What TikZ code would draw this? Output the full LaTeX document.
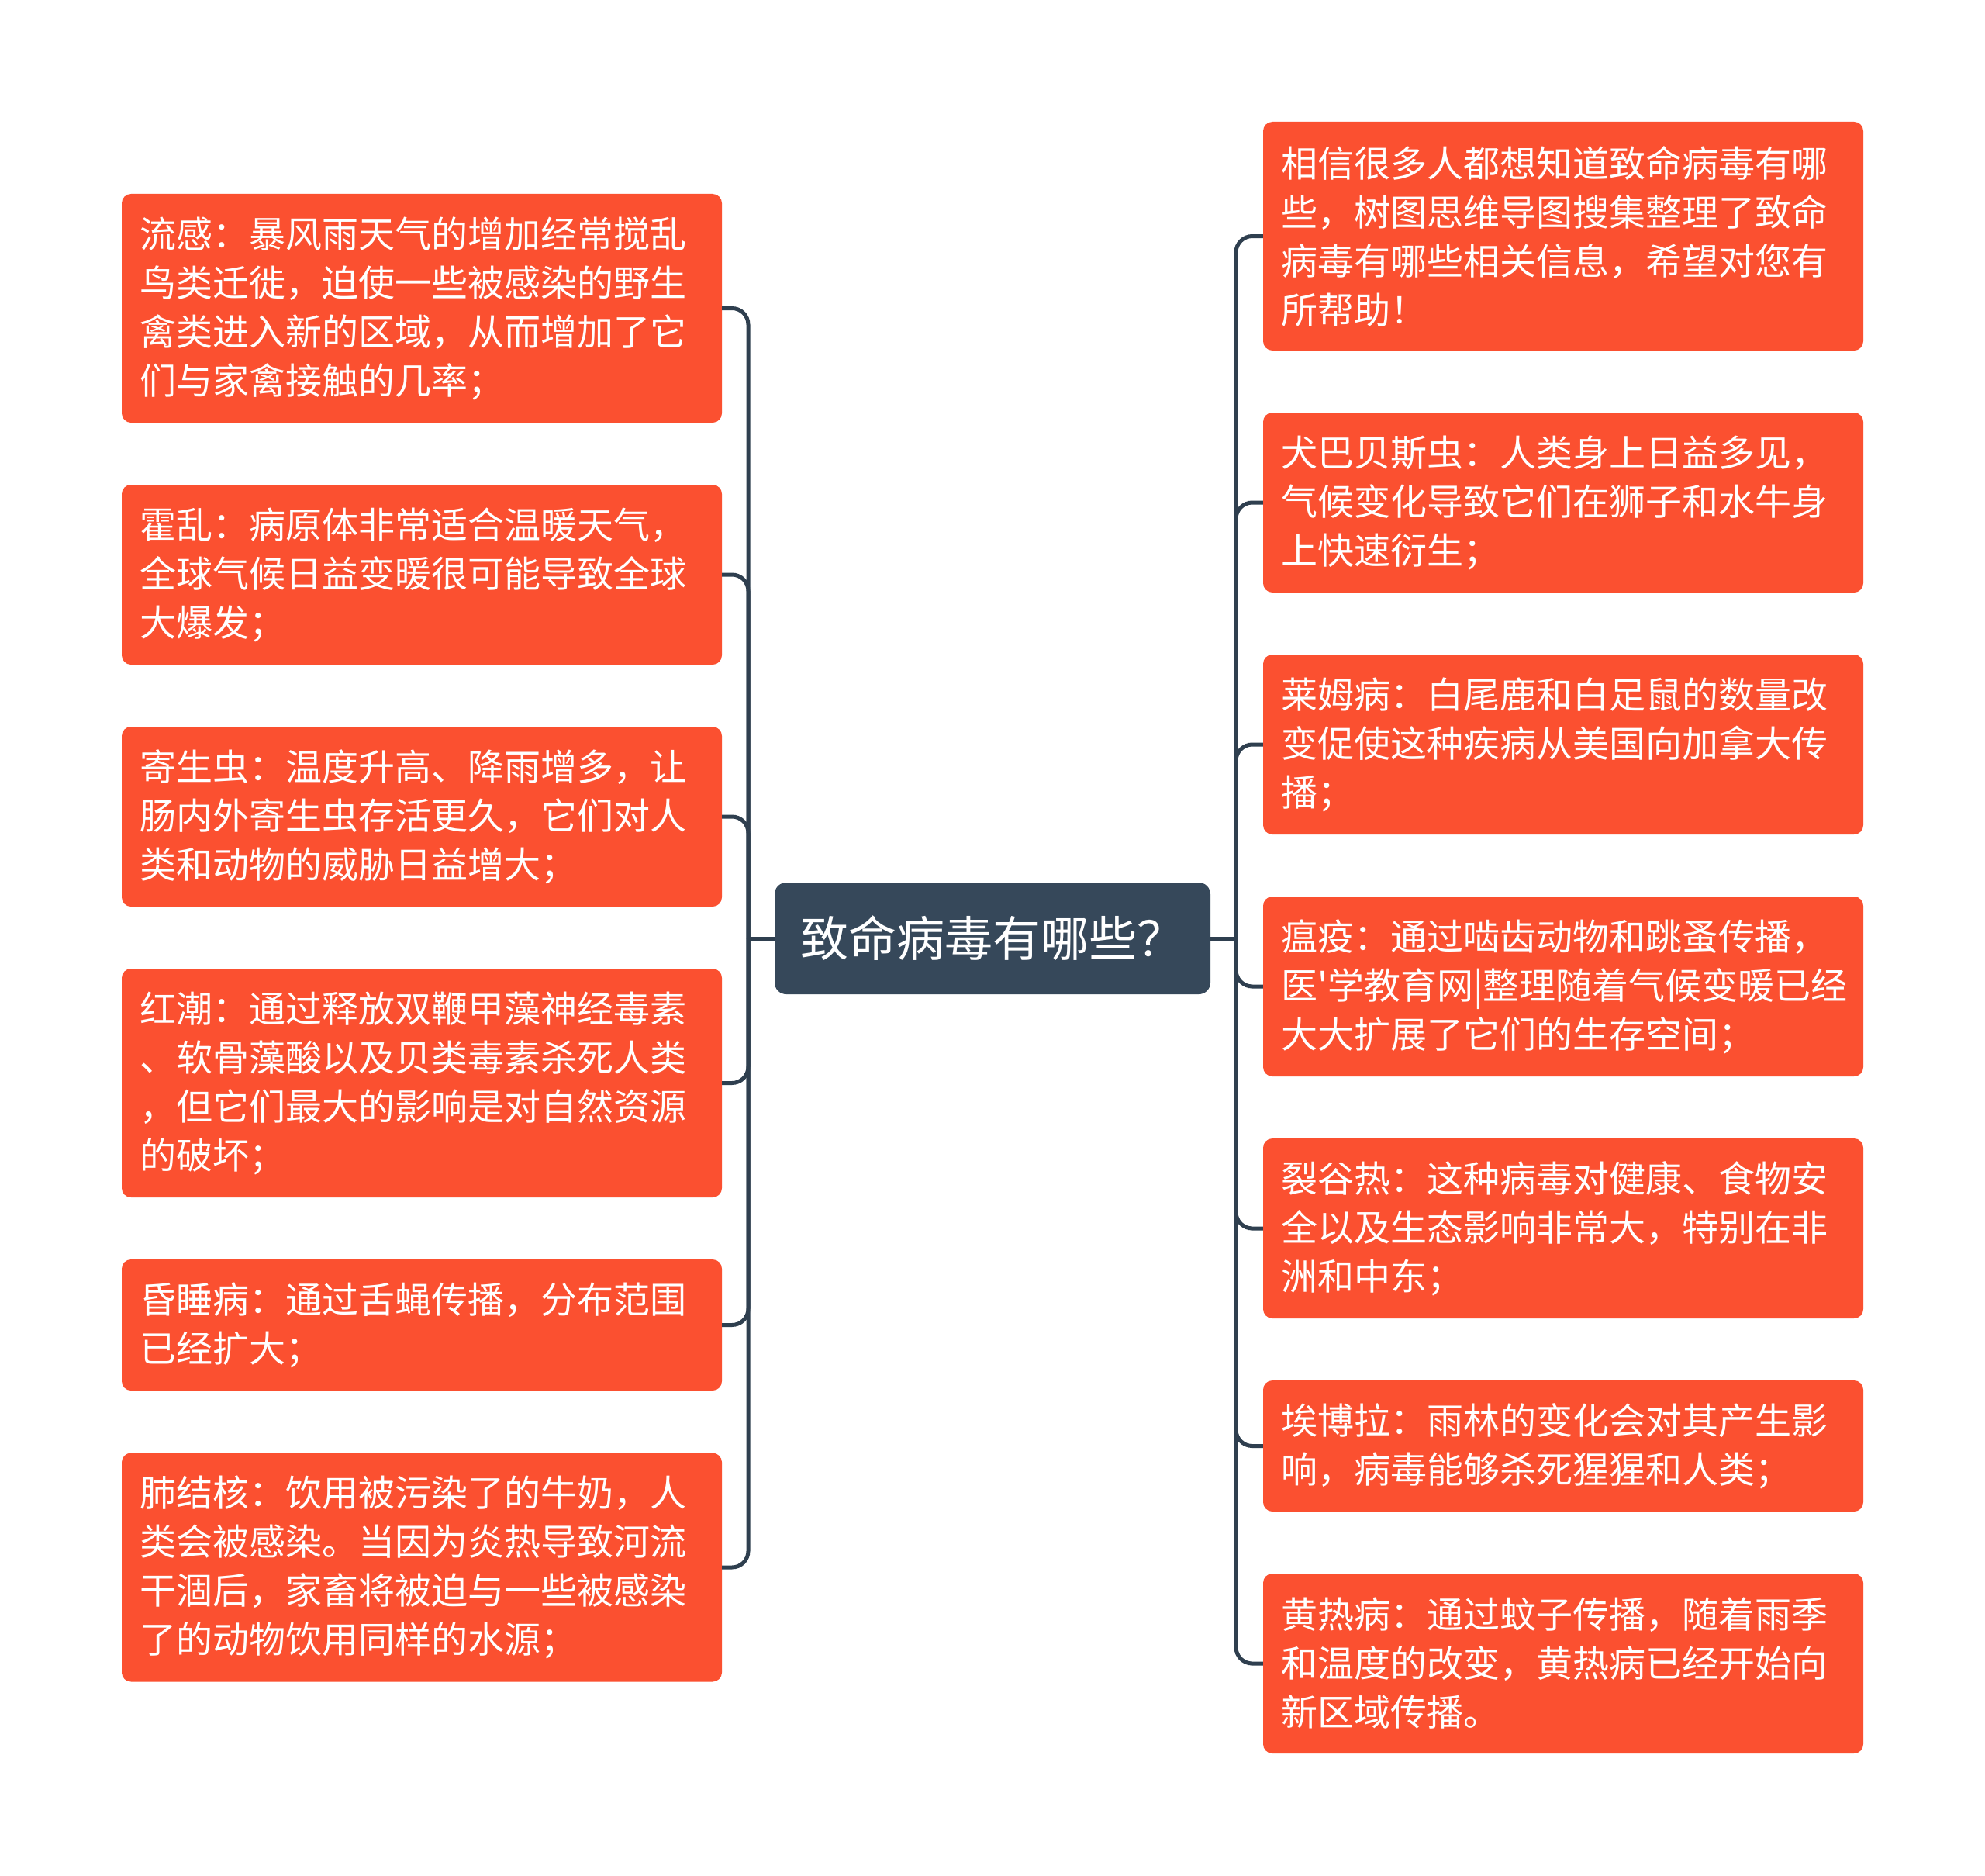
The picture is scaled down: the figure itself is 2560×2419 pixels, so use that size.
\documentclass[tikz,border=0pt]{standalone}
\usepackage{fontspec}
\setmainfont{Noto Sans CJK SC}[Ligatures=TeXOff]
\definecolor{leafc}{HTML}{FB5030}
\definecolor{rootc}{HTML}{36485A}
\definecolor{linec}{HTML}{2F3F4F}
\newcommand{\leaffont}{\fontsize{47pt}{63pt}\selectfont}
\newcommand{\rootfont}{\fontsize{62pt}{70pt}\selectfont}
\begin{document}
\begin{tikzpicture}[x=1pt,y=-1pt,
  leaf/.style={rectangle, rounded corners=12pt, fill=leafc, text=white,
    minimum width=774pt, text width=728pt, inner xsep=23pt, inner ysep=0pt,
    align=left, font=\leaffont},
  h4/.style={minimum height=295pt},
  h3/.style={minimum height=232pt},
  h2/.style={minimum height=169pt},
  rootbox/.style={rectangle, rounded corners=15pt, fill=rootc, text=white,
    minimum width=562pt, minimum height=144pt, inner sep=0pt, font=\rootfont},
  conn/.style={draw=linec, line width=5pt, rounded corners=21pt}]
\useasboundingbox (0,0) rectangle (2560,2419);
\fill[white] (0,0) rectangle (2560,2419);

\node[rootbox] (root) at (1280,1210) {致命病毒有哪些？};

\node[leaf,h4] (L1) at (544,397.5) {流感：暴风雨天气的增加经常搅乱\\鸟类迁徙，迫使一些被感染的野生\\禽类进入新的区域，从而增加了它\\们与家禽接触的几率；};
\node[leaf,h3] (L2) at (544,741) {霍乱：病原体非常适合温暖天气，\\全球气候日益变暖很可能导致全球\\大爆发；};
\node[leaf,h3] (L3) at (544,1053) {寄生虫：温度升高、降雨增多，让\\肠内外寄生虫存活更久，它们对人\\类和动物的威胁日益增大；};
\node[leaf,h4] (L4) at (544,1396.5) {红潮：通过释放双鞭甲藻神经毒素\\、软骨藻酸以及贝类毒素杀死人类\\，但它们最大的影响是对自然资源\\的破坏；};
\node[leaf,h2] (L5) at (544,1708.5) {昏睡病：通过舌蝇传播，分布范围\\已经扩大；};
\node[leaf,h4] (L6) at (544,2021) {肺结核：饮用被污染了的牛奶，人\\类会被感染。当因为炎热导致河流\\干涸后，家畜将被迫与一些被感染\\了的动物饮用同样的水源；};

\node[leaf,h4] (R1) at (2016,304.5) {相信很多人都想知道致命病毒有哪\\些，树图思维导图搜集整理了致命\\病毒有哪些相关信息，希望对您有\\所帮助！};
\node[leaf,h3] (R2) at (2016,648) {犬巴贝斯虫：人类身上日益多见，\\气候变化导致它们在狮子和水牛身\\上快速衍生；};
\node[leaf,h3] (R3) at (2016,960) {莱姆病：白尾鹿和白足鼠的数量改\\变促使这种疾病从美国向加拿大传\\播；};
\node[leaf,h3] (R4) at (2016,1272) {瘟疫：通过啮齿动物和跳蚤传播，\\医'学教育网|整理随着气候变暖已经\\大大扩展了它们的生存空间；};
\node[leaf,h3] (R5) at (2016,1584) {裂谷热：这种病毒对健康、食物安\\全以及生态影响非常大，特别在非\\洲和中东；};
\node[leaf,h2] (R6) at (2016,1864.5) {埃博拉：雨林的变化会对其产生影\\响，病毒能够杀死猩猩和人类；};
\node[leaf,h3] (R7) at (2016,2145) {黄热病：通过蚊子传播，随着雨季\\和温度的改变，黄热病已经开始向\\新区域传播。};

\coordinate (lbus) at (965,1210);
\coordinate (rbus) at (1594,1210);
\draw[conn] (root.west) -- (lbus);
\draw[conn] (root.east) -- (rbus);
\foreach \n in {L1,L2,L3,L4,L5,L6} \draw[conn] (lbus) |- (\n.east);
\foreach \n in {R1,R2,R3,R4,R5,R6,R7} \draw[conn] (rbus) |- (\n.west);
\end{tikzpicture}
\end{document}
